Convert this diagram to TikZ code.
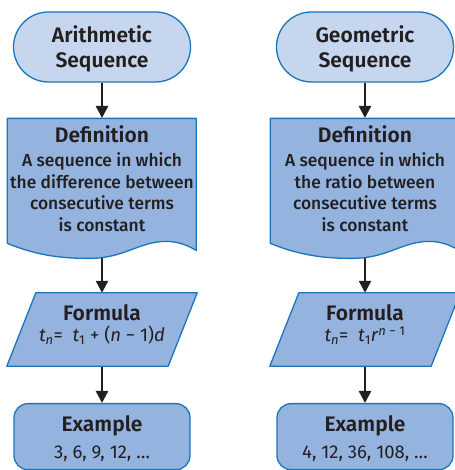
\documentclass[tikz,border=0pt]{standalone}
\usepackage{fontspec}
\setmainfont{Fira Sans}
\newfontfamily\flowhead{Fira Sans SemiBold}
\newfontfamily\flowbody{Fira Sans Medium}
\usepackage{tikz}
\usetikzlibrary{arrows.meta,positioning,shapes.misc,backgrounds}
\definecolor{pillfill}{HTML}{C7D6EF}
\definecolor{boxfill}{HTML}{94B3DF}
\definecolor{edgeblue}{HTML}{1B75BB}
\definecolor{ink}{HTML}{231F20}
\tikzset{
    every picture/.style={line cap=round,line join=round},
    pillbox/.style={rounded rectangle,draw=edgeblue,fill=pillfill,line width=1.3pt,
      minimum width=177pt,minimum height=70pt,inner sep=0pt},
    docarea/.style={minimum width=189pt,minimum height=125pt,inner sep=0pt},
    formarea/.style={minimum width=161pt,minimum height=73pt,inner sep=0pt},
    examplebox/.style={draw=edgeblue,fill=boxfill,line width=1.3pt,rounded corners=14pt,
      minimum width=176pt,minimum height=66pt,inner sep=0pt},
    shapeline/.style={draw=edgeblue,fill=boxfill,line width=1.3pt},
    headtext/.style={anchor=base,inner sep=0pt,text=ink,
      font=\flowhead\fontsize{21}{25}\selectfont},
    bodytext/.style={anchor=base,inner sep=0pt,text=ink,
      font=\flowbody\fontsize{17.4}{21.5}\selectfont},
    mathtext/.style={anchor=base,inner sep=0pt,text=ink,
      font=\fontsize{18.5}{22}\selectfont},
    flowarrow/.style={-{Triangle[length=12pt,width=12pt]},draw=ink,line width=2.4pt}
}

\begin{document}
\begin{tikzpicture}[x=1pt,y=1pt]
  \useasboundingbox (0,0) rectangle (454,470);
  % arithmetic column
  \node[pillbox] (seqA) at (102,423) {};
  \node[docarea,anchor=north] (defA) at (102,352) {};
  \node[formarea] (frmA) at (102,140.5) {};
  \node[examplebox,anchor=north] (exA) at (102,67) {};
  % geometric column
  \node[pillbox] (seqG) at (365,423) {};
  \node[docarea,anchor=north] (defG) at (365,352) {};
  \node[formarea] (frmG) at (365,140.5) {};
  \node[examplebox,anchor=north] (exG) at (365,67) {};
  % document and parallelogram outlines
  \foreach \d in {defA,defG}
    \draw[shapeline,shift={(\d.south west)}] (0,0) -- (0,125) -- (189,125) -- (189,-7)
      .. controls (182,-3) and (172,2) .. (159,2)
      .. controls (132,2) and (117,-15) .. (82,-15)
      .. controls (57,-15) and (32,-13) .. (0,0) -- cycle;
  \foreach \f in {frmA,frmG}
    \draw[shapeline] ([xshift=14.5pt]\f.north west) -- ([xshift=14.5pt]\f.north east)
      -- ([xshift=-14.5pt]\f.south east) -- ([xshift=-14.5pt]\f.south west) -- cycle;
  % texts
  \node[headtext] (seqA-1) at ([yshift=-31]seqA.north) {Arithmetic};
  \node[headtext] (seqA-2) at ([yshift=-56]seqA.north) {Sequence};
  \node[headtext] (seqG-1) at ([yshift=-31]seqG.north) {Geometric};
  \node[headtext] (seqG-2) at ([yshift=-56]seqG.north) {Sequence};
  \foreach \c in {defA,defG}
    \node[headtext] (\c-t) at ([yshift=-25]\c.north) {Definition};
  \foreach \l [count=\i] in {A sequence in which,the difference between,consecutive terms,is constant}
    \node[bodytext] (defA-\i) at ([yshift={-49-21.5*(\i-1)}]defA.north) {\l};
  \foreach \l [count=\i] in {A sequence in which,the ratio between,consecutive terms,is constant}
    \node[bodytext] (defG-\i) at ([yshift={-49-21.5*(\i-1)}]defG.north) {\l};
  \foreach \c in {frmA,frmG}
    \node[headtext] (\c-t) at ([yshift=-28]\c.north) {Formula};
  \node[mathtext] (frmA-f) at ([yshift=-49]frmA.north)
    {\textit{t}\textsubscript{\textit{n}}=\ \ \textit{t}\textsubscript{1} + (\textit{n} − 1)\textit{d}};
  \node[mathtext] (frmG-f) at ([yshift=-49]frmG.north)
    {\textit{t}\textsubscript{\textit{n}}=\ \ \textit{t}\textsubscript{1}\textit{r}\textsuperscript{\textit{n} − 1}};
  \foreach \c in {exA,exG}
    \node[headtext] (\c-t) at ([yshift=-29]\c.north) {Example};
  \node[mathtext] (exA-v) at ([yshift=-56]exA.north) {3, 6, 9, 12, …};
  \node[mathtext] (exG-v) at ([yshift=-56]exG.north) {4, 12, 36, 108, …};
  % connectors
  \begin{scope}[on background layer]
    \foreach \a/\b in {seqA/defA,defA/frmA,frmA/exA,seqG/defG,defG/frmG,frmG/exG}
      \draw[flowarrow] (\a) -- (\b);
  \end{scope}
\end{tikzpicture}
\end{document}
